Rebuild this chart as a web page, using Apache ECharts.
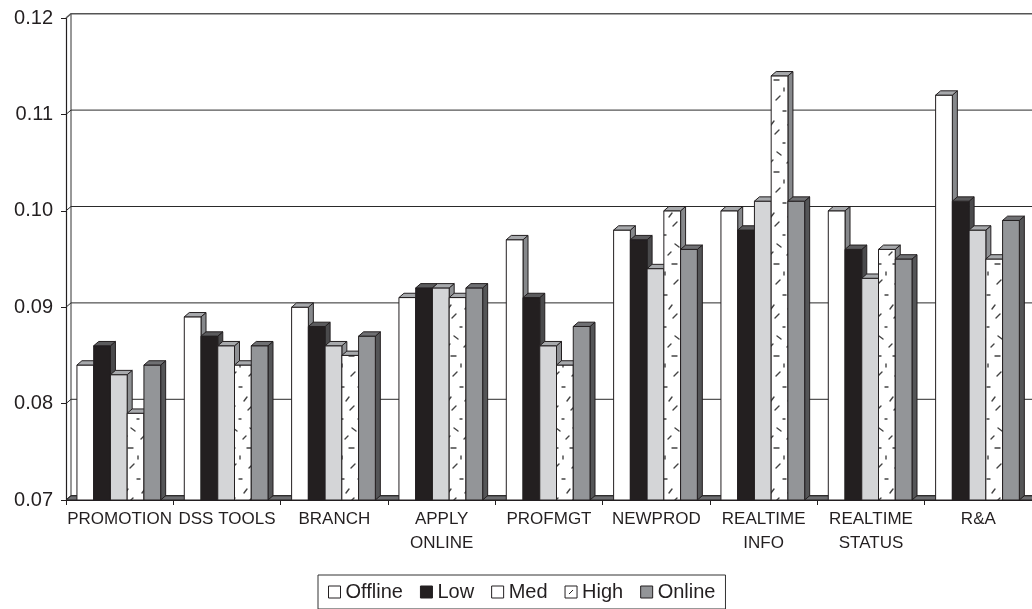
<!DOCTYPE html>
<html>
<head>
<meta charset="utf-8">
<script src="https://cdn.jsdelivr.net/npm/echarts@6/dist/echarts.min.js"></script>
<style>
  html, body { margin: 0; padding: 0; background: #ffffff; }
  #chart { width: 1032px; height: 609px; }
</style>
</head>
<body>
<div id="chart"></div>
<script>
// ---- data ----
const categories = ['PROMOTION', 'DSS TOOLS', 'BRANCH', 'APPLY\nONLINE', 'PROFMGT',
                    'NEWPROD', 'REALTIME\nINFO', 'REALTIME\nSTATUS', 'R&A'];
const offline = [0.084, 0.089, 0.090, 0.091, 0.097, 0.098, 0.100, 0.100, 0.112];
const low     = [0.086, 0.087, 0.088, 0.092, 0.091, 0.097, 0.098, 0.096, 0.101];
const med     = [0.083, 0.086, 0.086, 0.092, 0.086, 0.094, 0.101, 0.093, 0.098];
const high    = [0.079, 0.084, 0.085, 0.091, 0.084, 0.100, 0.114, 0.096, 0.095];
const online  = [0.084, 0.086, 0.087, 0.092, 0.088, 0.096, 0.101, 0.095, 0.099];
const yTicks  = [0.07, 0.08, 0.09, 0.10, 0.11, 0.12];

// ---- styling constants ----
const FONT = 'Liberation Sans, Arial, Helvetica, sans-serif';
const INK = '#231f20';
const DX = 5, DY = 4.3;           // depth offset of the pseudo-3D faces
const LEAD = 0.102, BARW = 0.156; // fractions of a category band

// sparse dash texture used for the "High" bars
function makeDashTexture() {
  const c = document.createElement('canvas');
  c.width = 17; c.height = 92;
  const g = c.getContext('2d');
  g.fillStyle = '#ffffff';
  g.fillRect(0, 0, c.width, c.height);
  g.strokeStyle = '#444444';
  g.lineWidth = 1.4;
  g.lineCap = 'round';
  const dashes = [
    [11, 8, 15, 4], [1, 19, 4, 19], [6, 33, 9, 29], [10, 42, 14, 38],
    [1, 51, 3, 51], [12, 60, 16, 63], [5, 71, 8, 68], [9, 80, 14, 80], [2, 88, 2, 91]
  ];
  dashes.forEach(d => { g.beginPath(); g.moveTo(d[0], d[1]); g.lineTo(d[2], d[3]); g.stroke(); });
  return c;
}
const dashPattern = { image: makeDashTexture(), repeat: 'repeat' };

const seriesDefs = [
  { name: 'Offline', values: offline, fill: '#ffffff', top: '#a7a9ac', side: '#86888b' },
  { name: 'Low',     values: low,     fill: '#231f20', top: '#5b5b5d', side: '#4a4a4c' },
  { name: 'Med',     values: med,     fill: '#d4d5d7', top: '#a7a9ac', side: '#8e9093' },
  { name: 'High',    values: high,    fill: dashPattern, top: '#a7a9ac', side: '#86888b' },
  { name: 'Online',  values: online,  fill: '#939598', top: '#6f7073', side: '#545557' }
];

const yMin = yTicks[0], yMax = yTicks[yTicks.length - 1];

// back wall gridlines, thin left wall and floor
const wallSeries = {
  type: 'custom',
  name: 'wall',
  z: 1,
  silent: true,
  data: yTicks.map(t => [0, t]),
  encode: { x: 0, y: 1 },
  renderItem(params, api) {
    const cs = params.coordSys;
    const x0 = cs.x, x1 = cs.x + cs.width;
    const y = api.coord([0, api.value(1)])[1];
    const children = [];
    if (params.dataIndex === 0) {
      const yTop = api.coord([0, yMax])[1];
      children.push({
        type: 'polygon',
        shape: { points: [[x0, y], [x1, y], [x1 + DX, y - DY], [x0 + DX, y - DY]] },
        style: { fill: '#6d6e71', stroke: INK, lineWidth: 1 }
      });
      children.push({
        type: 'line',
        shape: { x1: x0 + DX, y1: yTop - DY, x2: x0 + DX, y2: y - DY },
        style: { stroke: '#333', lineWidth: 1 }
      });
    }
    const isTop = params.dataIndex === yTicks.length - 1;
    children.push({
      type: 'polyline',
      shape: { points: [[x0, y], [x0 + DX, y - DY], [x1 + DX, y - DY]] },
      style: { fill: null, stroke: isTop ? '#555' : '#2a2a2a', lineWidth: isTop ? 1.6 : 1 }
    });
    return { type: 'group', children };
  }
};

function barSeries(def, idx) {
  return {
    type: 'custom',
    name: def.name,
    z: 3 + idx,
    data: def.values.map((v, i) => [i, v]),
    encode: { x: 0, y: 1 },
    itemStyle: { color: typeof def.fill === 'string' ? def.fill : '#ffffff' },
    renderItem(params, api) {
      const ci = api.value(0), v = api.value(1);
      const band = api.size([1, 0])[0];
      const base = api.coord([ci, yMin]);
      const topPt = api.coord([ci, v]);
      const w = band * BARW;
      const x = base[0] - band / 2 + band * LEAD + idx * w;
      const by = base[1], ty = topPt[1];
      return {
        type: 'group',
        children: [
          { type: 'polygon',
            shape: { points: [[x + w, ty], [x + w + DX, ty - DY], [x + w + DX, by - DY], [x + w, by]] },
            style: { fill: def.side, stroke: INK, lineWidth: 1 } },
          { type: 'rect',
            shape: { x: x, y: ty, width: w, height: by - ty },
            style: { fill: def.fill, stroke: INK, lineWidth: 1 } },
          { type: 'polygon',
            shape: { points: [[x, ty], [x + w, ty], [x + w + DX, ty - DY], [x + DX, ty - DY]] },
            style: { fill: def.top, stroke: INK, lineWidth: 1 } }
        ]
      };
    }
  };
}

const legendIcons = {
  Offline: { icon: 'rect', itemStyle: { color: '#ffffff', borderColor: INK, borderWidth: 1 } },
  Low:     { icon: 'rect', itemStyle: { color: '#231f20', borderColor: INK, borderWidth: 1 } },
  Med:     { icon: 'rect', itemStyle: { color: '#ffffff', borderColor: INK, borderWidth: 1 } },
  High:    { icon: 'path://M0,0 L12,0 L12,12 L0,12 Z M4,8 L8,4',
             itemStyle: { color: '#ffffff', borderColor: INK, borderWidth: 1 } },
  Online:  { icon: 'rect', itemStyle: { color: '#939598', borderColor: INK, borderWidth: 1 } }
};

const chart = echarts.init(document.getElementById('chart'), null, { renderer: 'canvas' });
chart.setOption({
  backgroundColor: '#ffffff',
  animation: false,
  grid: { left: 66, right: -4, top: 18, bottom: 109, containLabel: false },
  legend: {
    left: 318,
    top: 575,
    padding: [7, 10, 7, 10],
    itemGap: 17,
    itemWidth: 12,
    itemHeight: 12,
    borderColor: '#333',
    borderWidth: 1,
    textStyle: { fontFamily: FONT, fontSize: 20, color: INK },
    data: seriesDefs.map(d => Object.assign({ name: d.name }, legendIcons[d.name]))
  },
  xAxis: {
    type: 'category',
    data: categories,
    boundaryGap: true,
    axisLine: { show: true, lineStyle: { color: INK, width: 1 } },
    axisTick: { show: true, length: 5, lineStyle: { color: INK } },
    axisLabel: { interval: 0, margin: 8, fontFamily: FONT, fontSize: 17, lineHeight: 23.5, color: INK },
    splitLine: { show: false }
  },
  yAxis: {
    type: 'value',
    min: yMin,
    max: yMax,
    interval: 0.01,
    axisLine: { show: true, lineStyle: { color: INK, width: 1.2 } },
    axisTick: { show: true, length: 5, lineStyle: { color: INK } },
    axisLabel: { margin: 13, fontFamily: FONT, fontSize: 20, color: INK,
                 formatter: v => v.toFixed(2) },
    splitLine: { show: false }
  },
  series: [wallSeries].concat(seriesDefs.map(barSeries))
});
</script>
</body>
</html>
